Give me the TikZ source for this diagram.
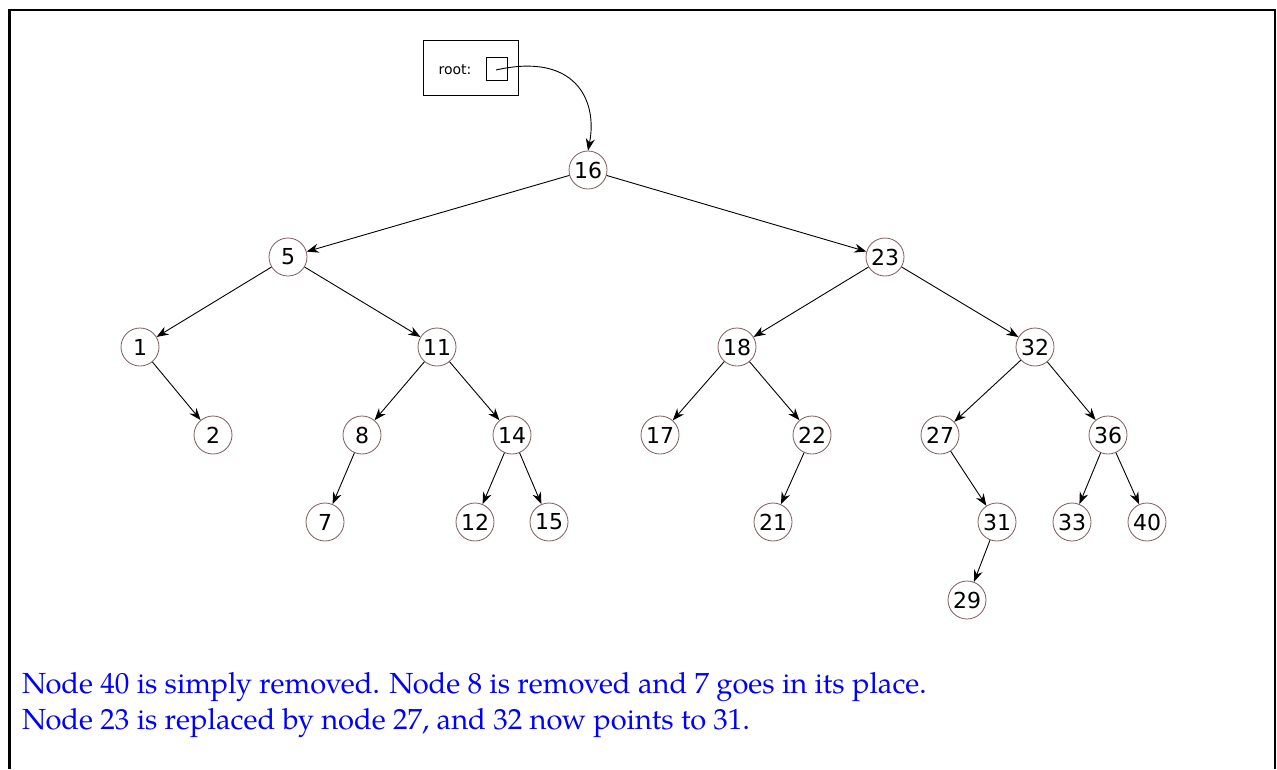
\documentclass[tikz,border=0pt]{standalone}
\usepackage{fontspec}
\setsansfont{DejaVu Sans}
\IfFontExistsTF{texgyrepagella-regular.otf}
  {\newfontfamily\capfont{texgyrepagella-regular.otf}\newcommand\capsize{\fontsize{29.1}{36}\selectfont}}
  {\newfontfamily\capfont{Liberation Serif}\newcommand\capsize{\fontsize{31.5}{36}\selectfont}}
\usetikzlibrary{arrows.meta}
\definecolor{nodeedge}{RGB}{125,90,90}
\definecolor{txtblue}{RGB}{0,0,255}
\begin{document}
\begin{tikzpicture}[x=1pt,y=-1pt,
  tn/.style={circle,draw=nodeedge,line width=0.8pt,minimum size=38pt,inner sep=0pt,
    font=\sffamily\fontsize{22}{22}\selectfont},
  edge/.style={-{Stealth[length=12pt,width=9pt]},line width=0.9pt},
  frameline/.style={black},
  bluetext/.style={text=txtblue,anchor=base west,inner sep=0pt,
    font=\capfont\capsize}]
\useasboundingbox (0,0) rectangle (1277,769);
% frame
\draw[frameline,line width=3pt] (9,769) -- (9,10);
\draw[frameline,line width=2pt] (8,10) -- (1276,10);
\draw[frameline,line width=1.5pt] (1275,10) -- (1275,769);
% root box
\node[draw,line width=0.9pt,minimum width=95pt,minimum height=55pt,inner sep=0pt] (rootbox) at (470.5,67.5) {};
\node[font=\sffamily\fontsize{14}{14}\selectfont,inner sep=0pt] (rootlbl) at (455,70) {root:};
\node[draw,line width=0.8pt,minimum width=21pt,minimum height=23pt,inner sep=0pt] (rootptr) at (496.5,68.5) {};
\coordinate (rootstart) at (496,70);
% tree nodes
\node[tn] (n16) at (588,170) {16};
\node[tn] (n5) at (288,257) {5};
\node[tn] (n23) at (885,257) {23};
\node[tn] (n1) at (140,347) {1};
\node[tn] (n11) at (437,347) {11};
\node[tn] (n18) at (737,347) {18};
\node[tn] (n32) at (1035,347) {32};
\node[tn] (n2) at (213,435) {2};
\node[tn] (n8) at (362,435) {8};
\node[tn] (n14) at (512,435) {14};
\node[tn] (n17) at (660,435) {17};
\node[tn] (n22) at (812,435) {22};
\node[tn] (n27) at (940,435) {27};
\node[tn] (n36) at (1108,435) {36};
\node[tn] (n7) at (325,522) {7};
\node[tn] (n12) at (475,522) {12};
\node[tn] (n15) at (549,522) {15};
\node[tn] (n21) at (773,522) {21};
\node[tn] (n31) at (997,522) {31};
\node[tn] (n33) at (1072,522) {33};
\node[tn] (n40) at (1147,522) {40};
\node[tn] (n29) at (967,600) {29};
% root pointer
\draw[edge] (rootstart) .. controls (575,52) and (598,100) .. (n16.north);
% edges
\draw[edge] (n16) -- (n5);
\draw[edge] (n16) -- (n23);
\draw[edge] (n5) -- (n1);
\draw[edge] (n5) -- (n11);
\draw[edge] (n23) -- (n18);
\draw[edge] (n23) -- (n32);
\draw[edge] (n1) -- (n2);
\draw[edge] (n11) -- (n8);
\draw[edge] (n11) -- (n14);
\draw[edge] (n18) -- (n17);
\draw[edge] (n18) -- (n22);
\draw[edge] (n32) -- (n27);
\draw[edge] (n32) -- (n36);
\draw[edge] (n8) -- (n7);
\draw[edge] (n14) -- (n12);
\draw[edge] (n14) -- (n15);
\draw[edge] (n22) -- (n21);
\draw[edge] (n27) -- (n31);
\draw[edge] (n36) -- (n33);
\draw[edge] (n36) -- (n40);
\draw[edge] (n31) -- (n29);
% caption
\node[bluetext] (cap1) at (22,693) {Node 40 is simply removed. Node 8 is removed and 7 goes in its place.};
\node[bluetext] (cap2) at (22,729) {Node 23 is replaced by node 27, and 32 now points to 31.};
\end{tikzpicture}
\end{document}
